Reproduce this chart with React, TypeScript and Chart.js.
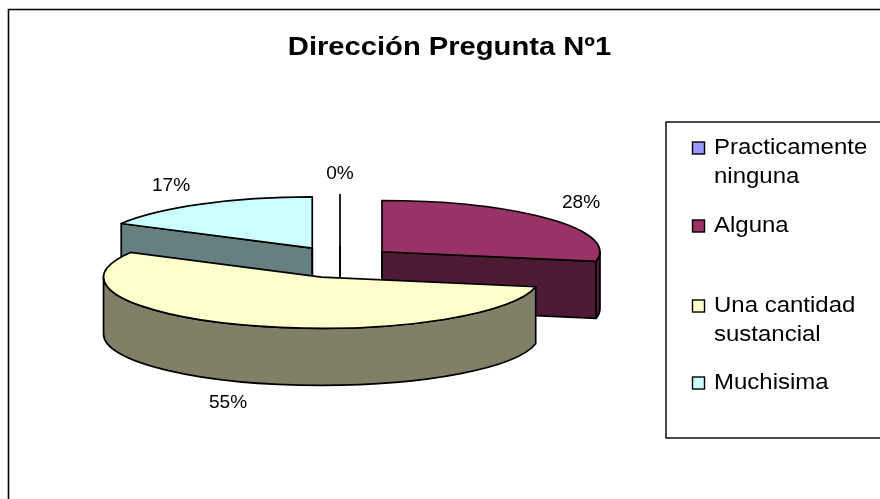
import React, { useEffect, useRef } from "react";
import { Chart, registerables, layouts } from "chart.js";

Chart.register(...registerables);

const categories = ["Practicamente ninguna", "Alguna", "Una cantidad sustancial", "Muchisima"];
const legendLines = [["Practicamente", "ninguna"], ["Alguna"], ["Una cantidad", "sustancial"], ["Muchisima"]];
const percentages = [0, 28, 55, 17];
const sliceColors = ["#9999FF", "#993366", "#FFFFCC", "#CCFFFF"];
const wallColors = ["#4D4D80", "#4D1A33", "#808066", "#668080"];
const chartTitle = "Dirección Pregunta Nº1";

const FONT = '"Liberation Sans", Arial, sans-serif';
const TILT = 0.235; // vertical squash of the pie disc
const OFFSET_TILT = 0.295; // vertical squash of the slice separation
const DEPTH = 57; // thickness of the disc
const LINE = 1.7;
const TITLE_STRETCH = 1.166;

function drawStretched(ctx: CanvasRenderingContext2D, text: string, x: number, y: number, sx: number) {
  ctx.save();
  ctx.translate(x, y);
  ctx.scale(sx, 1);
  ctx.fillText(text, 0, 0);
  ctx.restore();
}

// Reserves the right-hand column for the legend.
function makeLegendBox() {
  return {
    position: "right",
    weight: 0,
    fullSize: false,
    options: {},
    left: 0, right: 0, top: 0, bottom: 0, width: 219, height: 0,
    isHorizontal: () => false,
    update(_w: number, h: number) {
      this.width = 219;
      this.height = h;
    },
    draw() {},
  };
}

function drawLegend(ctx: CanvasRenderingContext2D, frameLeft: number) {
  ctx.save();
  ctx.strokeStyle = "#000";
  ctx.lineWidth = 1.4;
  ctx.strokeRect(frameLeft, 122, 880 - frameLeft + 4, 316);
  const rows = [148, 226, 306, 383];
  const lineGap = 29;
  rows.forEach((cy, i) => {
    ctx.fillStyle = sliceColors[i];
    ctx.fillRect(frameLeft + 26.5, cy - 6, 12, 12);
    ctx.strokeRect(frameLeft + 26.5, cy - 6, 12, 12);
    ctx.fillStyle = "#000";
    ctx.font = `22px ${FONT}`;
    ctx.textBaseline = "alphabetic";
    ctx.textAlign = "left";
    legendLines[i].forEach((text, j) => {
      drawStretched(ctx, text, frameLeft + 48, cy + 5.5 + j * lineGap, 1.09);
    });
  });
  ctx.restore();
}

const mod = (a: number) => ((a % (2 * Math.PI)) + 2 * Math.PI) % (2 * Math.PI);

// Draws each arc as a tilted slab with a visible wall under its top face.
const slabPie = {
  id: "slabPie",
  start(chart: any) {
    layouts.addBox(chart, makeLegendBox() as any);
  },
  beforeDraw(chart: any) {
    // widen the title about its own centre; undone before the pie is painted
    const ctx: CanvasRenderingContext2D = chart.ctx;
    const tb = chart.titleBlock;
    const c = (tb.left + tb.right) / 2;
    ctx.save();
    ctx.translate(c, 0);
    ctx.scale(TITLE_STRETCH, 1);
    ctx.translate(-c, 0);
  },
  beforeDatasetsDraw(chart: any) {
    const ctx: CanvasRenderingContext2D = chart.ctx;
    ctx.restore();
    const arcs = chart.getDatasetMeta(0).data.map((el: any, i: number) => {
      const mid = (el.startAngle + el.endAngle) / 2;
      const off = el.options.offset;
      return {
        i,
        a0: el.startAngle,
        a1: el.endAngle,
        rx: el.outerRadius,
        ry: el.outerRadius * TILT,
        px: el.x + Math.cos(mid) * off,
        py: el.y + Math.sin(mid) * off * OFFSET_TILT,
        mid,
      };
    });
    arcs.sort((p: any, q: any) => Math.sin(p.mid) - Math.sin(q.mid));
    ctx.save();
    ctx.lineWidth = LINE;
    ctx.lineJoin = "round";
    ctx.strokeStyle = "#000";
    for (const s of arcs) {
      const pt = (a: number) => [s.px + Math.cos(a) * s.rx, s.py + Math.sin(a) * s.ry];
      const face = (a: number) => {
        const [x, y] = pt(a);
        ctx.beginPath();
        ctx.moveTo(s.px, s.py);
        ctx.lineTo(x, y);
        ctx.lineTo(x, y + DEPTH);
        ctx.lineTo(s.px, s.py + DEPTH);
        ctx.closePath();
        ctx.fillStyle = wallColors[s.i];
        ctx.fill();
        ctx.stroke();
      };
      // cut faces turned toward the viewer
      if (Math.cos(s.a0) < -1e-6) face(s.a0);
      if (Math.cos(s.a1) > 1e-6) face(s.a1);
      // outer rim: the part of the arc on the near half of the ellipse
      const sweep = s.a1 - s.a0;
      const base = mod(s.a0);
      for (const [lo, hi] of [[0, Math.PI], [2 * Math.PI, 3 * Math.PI]]) {
        const from = Math.max(base, lo);
        const to = Math.min(base + sweep, hi);
        if (to > from) {
          ctx.beginPath();
          ctx.ellipse(s.px, s.py, s.rx, s.ry, 0, from, to);
          ctx.ellipse(s.px, s.py + DEPTH, s.rx, s.ry, 0, to, from, true);
          ctx.closePath();
          ctx.fillStyle = wallColors[s.i];
          ctx.fill();
          ctx.stroke();
        }
      }
      // top face
      ctx.beginPath();
      ctx.moveTo(s.px, s.py);
      ctx.ellipse(s.px, s.py, s.rx, s.ry, 0, s.a0, s.a1);
      ctx.closePath();
      ctx.fillStyle = sliceColors[s.i];
      if (sweep > 0) ctx.fill();
      ctx.stroke();
      // edge running straight down the wall at a vertical cut
      for (const a of [s.a0, s.a1]) {
        if (Math.abs(Math.cos(a)) < 1e-6) {
          ctx.beginPath();
          ctx.moveTo(s.px, s.py);
          ctx.lineTo(s.px, s.py + DEPTH);
          ctx.stroke();
        }
      }
    }
    ctx.restore();
    return false;
  },
  afterDraw(chart: any) {
    const ctx: CanvasRenderingContext2D = chart.ctx;
    const labelAt = [
      [340, 179],
      [581, 208],
      [228, 408],
      [171, 191],
    ];
    ctx.save();
    ctx.fillStyle = "#000";
    ctx.font = `18px ${FONT}`;
    ctx.textAlign = "center";
    percentages.forEach((v, i) => {
      drawStretched(ctx, `${v}%`, labelAt[i][0], labelAt[i][1], 1.06);
    });
    ctx.strokeStyle = "#000";
    ctx.lineWidth = 1.6;
    ctx.beginPath();
    ctx.moveTo(8.5, 505);
    ctx.lineTo(8.5, 9.5);
    ctx.lineTo(885, 9.5);
    ctx.stroke();
    ctx.restore();
    drawLegend(ctx, 666);
  },
};

export default function App() {
  const ref = useRef<HTMLCanvasElement | null>(null);
  useEffect(() => {
    const chart = new Chart(ref.current as HTMLCanvasElement, {
      type: "pie",
      data: {
        labels: categories,
        datasets: [
          {
            data: percentages,
            backgroundColor: sliceColors,
            borderWidth: 0,
            offset: 54.5,
            radius: 218,
          } as any,
        ],
      },
      options: {
        responsive: false,
        animation: false,
        layout: { padding: { left: 19, right: 0, top: 25, bottom: 48 } },
        plugins: {
          legend: { display: false },
          tooltip: { enabled: false },
          title: {
            display: true,
            text: chartTitle,
            color: "#000",
            font: { family: FONT, size: 25, weight: "bold" },
            padding: { top: 8, bottom: 10 },
          },
        },
      },
      plugins: [slabPie as any],
    });
    return () => chart.destroy();
  }, []);
  return (
    <canvas
      ref={ref}
      width={880}
      height={499}
      style={{ position: "fixed", left: 0, top: 0, width: 880, height: 499, background: "#fff" }}
    />
  );
}
